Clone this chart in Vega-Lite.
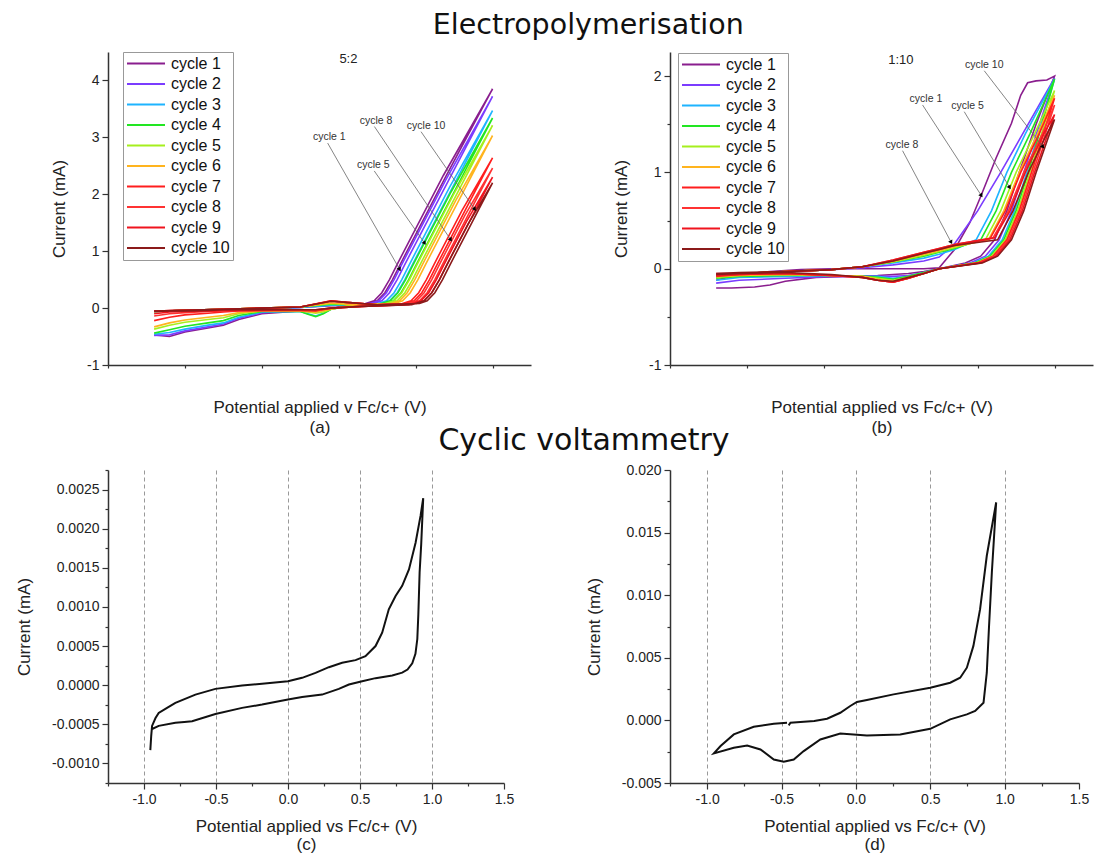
{
"$schema": "https://vega.github.io/schema/vega-lite/v6.json",
"padding": {"left": 15, "top": 11, "right": 2, "bottom": 2},
"background": "white",
"config": {
 "view": {"stroke": null},
 "font": "Liberation Sans",
 "axis": {"domain": true, "domainColor": "#333", "domainWidth": 1.5, "domainOpacity": 1, "labelFont": "Liberation Sans", "labelFontSize": 14, "labelColor": "#222", "titleFont": "Liberation Sans", "titleFontSize": 17, "titleFontWeight": "normal", "titleColor": "#222", "tickColor": "#333", "tickWidth": 1.2, "tickSize": 5, "labelFlush": false, "labelOverlap": false, "labelBound": false, "labelPadding": 3, "zindex": 1},
 "axisX": {"titlePadding": 14, "titleLineHeight": 20},
 "axisY": {"titlePadding": 18, "grid": false}
},
"title": {"text": "Electropolymerisation", "anchor": "middle", "dx": 34, "offset": 12, "font": "DejaVu Sans", "fontSize": 28.5, "fontWeight": "normal", "color": "#111"},
"datasets": {
"a": [
{"c":1,"i":0,"x":-0.95,"y":-0.06},{"c":1,"i":1,"x":-0.75,"y":-0.04},{"c":1,"i":2,"x":-0.5,"y":-0.02},{"c":1,"i":3,"x":-0.25,"y":-0.01},{"c":1,"i":4,"x":0,"y":0.01},{"c":1,"i":5,"x":0.2,"y":0.04},{"c":1,"i":6,"x":0.35,"y":0.05},{"c":1,"i":7,"x":0.45,"y":0.08},{"c":1,"i":8,"x":0.5,"y":0.13},{"c":1,"i":9,"x":0.55,"y":0.27},{"c":1,"i":10,"x":0.6,"y":0.5},{"c":1,"i":11,"x":0.65,"y":0.77},{"c":1,"i":12,"x":0.95,"y":2.33},{"c":1,"i":13,"x":1.25,"y":3.85},{"c":1,"i":14,"x":0.93,"y":2.33},{"c":1,"i":15,"x":0.63,"y":0.77},{"c":1,"i":16,"x":0.58,"y":0.5},{"c":1,"i":17,"x":0.53,"y":0.27},{"c":1,"i":18,"x":0.48,"y":0.13},{"c":1,"i":19,"x":0.4,"y":0.06},{"c":1,"i":20,"x":0.3,"y":0.03},{"c":1,"i":21,"x":0.2,"y":-0.01},{"c":1,"i":22,"x":0.1,"y":-0.05},{"c":1,"i":23,"x":0,"y":-0.05},{"c":1,"i":24,"x":-0.25,"y":-0.1},{"c":1,"i":25,"x":-0.4,"y":-0.2},{"c":1,"i":26,"x":-0.5,"y":-0.3},{"c":1,"i":27,"x":-0.6,"y":-0.35},{"c":1,"i":28,"x":-0.75,"y":-0.42},{"c":1,"i":29,"x":-0.85,"y":-0.5},{"c":1,"i":30,"x":-0.95,"y":-0.47},
{"c":2,"i":0,"x":-0.95,"y":-0.06},{"c":2,"i":1,"x":-0.75,"y":-0.04},{"c":2,"i":2,"x":-0.5,"y":-0.02},{"c":2,"i":3,"x":-0.25,"y":-0.01},{"c":2,"i":4,"x":0,"y":0.01},{"c":2,"i":5,"x":0.2,"y":0.05},{"c":2,"i":6,"x":0.35,"y":0.05},{"c":2,"i":7,"x":0.48,"y":0.08},{"c":2,"i":8,"x":0.53,"y":0.13},{"c":2,"i":9,"x":0.58,"y":0.27},{"c":2,"i":10,"x":0.63,"y":0.5},{"c":2,"i":11,"x":0.68,"y":0.77},{"c":2,"i":12,"x":0.965,"y":2.25},{"c":2,"i":13,"x":1.25,"y":3.72},{"c":2,"i":14,"x":0.945,"y":2.25},{"c":2,"i":15,"x":0.66,"y":0.77},{"c":2,"i":16,"x":0.61,"y":0.5},{"c":2,"i":17,"x":0.56,"y":0.27},{"c":2,"i":18,"x":0.51,"y":0.13},{"c":2,"i":19,"x":0.43,"y":0.06},{"c":2,"i":20,"x":0.3,"y":0.03},{"c":2,"i":21,"x":0.2,"y":-0.01},{"c":2,"i":22,"x":0.1,"y":-0.07},{"c":2,"i":23,"x":0,"y":-0.05},{"c":2,"i":24,"x":-0.25,"y":-0.08},{"c":2,"i":25,"x":-0.4,"y":-0.18},{"c":2,"i":26,"x":-0.5,"y":-0.28},{"c":2,"i":27,"x":-0.6,"y":-0.33},{"c":2,"i":28,"x":-0.75,"y":-0.4},{"c":2,"i":29,"x":-0.85,"y":-0.47},{"c":2,"i":30,"x":-0.95,"y":-0.48},
{"c":3,"i":0,"x":-0.95,"y":-0.06},{"c":3,"i":1,"x":-0.75,"y":-0.04},{"c":3,"i":2,"x":-0.5,"y":-0.02},{"c":3,"i":3,"x":-0.25,"y":-0.01},{"c":3,"i":4,"x":0,"y":0.01},{"c":3,"i":5,"x":0.2,"y":0.05},{"c":3,"i":6,"x":0.35,"y":0.05},{"c":3,"i":7,"x":0.53,"y":0.08},{"c":3,"i":8,"x":0.58,"y":0.13},{"c":3,"i":9,"x":0.63,"y":0.27},{"c":3,"i":10,"x":0.68,"y":0.5},{"c":3,"i":11,"x":0.73,"y":0.77},{"c":3,"i":12,"x":0.99,"y":2.12},{"c":3,"i":13,"x":1.25,"y":3.47},{"c":3,"i":14,"x":0.97,"y":2.12},{"c":3,"i":15,"x":0.71,"y":0.77},{"c":3,"i":16,"x":0.66,"y":0.5},{"c":3,"i":17,"x":0.61,"y":0.27},{"c":3,"i":18,"x":0.56,"y":0.13},{"c":3,"i":19,"x":0.48,"y":0.06},{"c":3,"i":20,"x":0.3,"y":0.03},{"c":3,"i":21,"x":0.2,"y":-0.02},{"c":3,"i":22,"x":0.15,"y":-0.09},{"c":3,"i":23,"x":0.1,"y":-0.14},{"c":3,"i":24,"x":0.05,"y":-0.1},{"c":3,"i":25,"x":0,"y":-0.06},{"c":3,"i":26,"x":-0.25,"y":-0.07},{"c":3,"i":27,"x":-0.4,"y":-0.16},{"c":3,"i":28,"x":-0.5,"y":-0.26},{"c":3,"i":29,"x":-0.6,"y":-0.3},{"c":3,"i":30,"x":-0.75,"y":-0.37},{"c":3,"i":31,"x":-0.85,"y":-0.43},{"c":3,"i":32,"x":-0.95,"y":-0.46},
{"c":4,"i":0,"x":-0.95,"y":-0.06},{"c":4,"i":1,"x":-0.75,"y":-0.04},{"c":4,"i":2,"x":-0.5,"y":-0.02},{"c":4,"i":3,"x":-0.25,"y":0},{"c":4,"i":4,"x":0,"y":0.02},{"c":4,"i":5,"x":0.2,"y":0.07},{"c":4,"i":6,"x":0.35,"y":0.06},{"c":4,"i":7,"x":0.555,"y":0.08},{"c":4,"i":8,"x":0.605,"y":0.13},{"c":4,"i":9,"x":0.655,"y":0.27},{"c":4,"i":10,"x":0.705,"y":0.5},{"c":4,"i":11,"x":0.755,"y":0.77},{"c":4,"i":12,"x":1.0,"y":2.04},{"c":4,"i":13,"x":1.25,"y":3.34},{"c":4,"i":14,"x":0.98,"y":2.04},{"c":4,"i":15,"x":0.735,"y":0.77},{"c":4,"i":16,"x":0.685,"y":0.5},{"c":4,"i":17,"x":0.635,"y":0.27},{"c":4,"i":18,"x":0.585,"y":0.13},{"c":4,"i":19,"x":0.5,"y":0.06},{"c":4,"i":20,"x":0.3,"y":0.03},{"c":4,"i":21,"x":0.2,"y":-0.02},{"c":4,"i":22,"x":0.15,"y":-0.1},{"c":4,"i":23,"x":0.1,"y":-0.15},{"c":4,"i":24,"x":0.05,"y":-0.11},{"c":4,"i":25,"x":0,"y":-0.06},{"c":4,"i":26,"x":-0.25,"y":-0.06},{"c":4,"i":27,"x":-0.4,"y":-0.13},{"c":4,"i":28,"x":-0.5,"y":-0.22},{"c":4,"i":29,"x":-0.6,"y":-0.26},{"c":4,"i":30,"x":-0.75,"y":-0.32},{"c":4,"i":31,"x":-0.85,"y":-0.38},{"c":4,"i":32,"x":-0.95,"y":-0.44},
{"c":5,"i":0,"x":-0.95,"y":-0.06},{"c":5,"i":1,"x":-0.75,"y":-0.04},{"c":5,"i":2,"x":-0.5,"y":-0.02},{"c":5,"i":3,"x":-0.25,"y":0},{"c":5,"i":4,"x":0,"y":0.02},{"c":5,"i":5,"x":0.2,"y":0.08},{"c":5,"i":6,"x":0.35,"y":0.06},{"c":5,"i":7,"x":0.58,"y":0.08},{"c":5,"i":8,"x":0.63,"y":0.13},{"c":5,"i":9,"x":0.68,"y":0.27},{"c":5,"i":10,"x":0.73,"y":0.5},{"c":5,"i":11,"x":0.78,"y":0.77},{"c":5,"i":12,"x":1.015,"y":1.99},{"c":5,"i":13,"x":1.25,"y":3.21},{"c":5,"i":14,"x":0.995,"y":1.99},{"c":5,"i":15,"x":0.76,"y":0.77},{"c":5,"i":16,"x":0.71,"y":0.5},{"c":5,"i":17,"x":0.66,"y":0.27},{"c":5,"i":18,"x":0.61,"y":0.13},{"c":5,"i":19,"x":0.53,"y":0.06},{"c":5,"i":20,"x":0.3,"y":0.03},{"c":5,"i":21,"x":0.2,"y":-0.02},{"c":5,"i":22,"x":0.15,"y":-0.07},{"c":5,"i":23,"x":0.1,"y":-0.09},{"c":5,"i":24,"x":0.05,"y":-0.07},{"c":5,"i":25,"x":0,"y":-0.05},{"c":5,"i":26,"x":-0.25,"y":-0.05},{"c":5,"i":27,"x":-0.4,"y":-0.1},{"c":5,"i":28,"x":-0.5,"y":-0.17},{"c":5,"i":29,"x":-0.6,"y":-0.2},{"c":5,"i":30,"x":-0.75,"y":-0.25},{"c":5,"i":31,"x":-0.85,"y":-0.3},{"c":5,"i":32,"x":-0.95,"y":-0.37},
{"c":6,"i":0,"x":-0.95,"y":-0.06},{"c":6,"i":1,"x":-0.75,"y":-0.04},{"c":6,"i":2,"x":-0.5,"y":-0.02},{"c":6,"i":3,"x":-0.25,"y":0},{"c":6,"i":4,"x":0,"y":0.02},{"c":6,"i":5,"x":0.2,"y":0.09},{"c":6,"i":6,"x":0.35,"y":0.06},{"c":6,"i":7,"x":0.615,"y":0.08},{"c":6,"i":8,"x":0.665,"y":0.13},{"c":6,"i":9,"x":0.715,"y":0.27},{"c":6,"i":10,"x":0.765,"y":0.5},{"c":6,"i":11,"x":0.815,"y":0.77},{"c":6,"i":12,"x":1.03,"y":1.89},{"c":6,"i":13,"x":1.25,"y":3.03},{"c":6,"i":14,"x":1.01,"y":1.89},{"c":6,"i":15,"x":0.795,"y":0.77},{"c":6,"i":16,"x":0.745,"y":0.5},{"c":6,"i":17,"x":0.695,"y":0.27},{"c":6,"i":18,"x":0.645,"y":0.13},{"c":6,"i":19,"x":0.565,"y":0.06},{"c":6,"i":20,"x":0.3,"y":0.03},{"c":6,"i":21,"x":0.2,"y":-0.02},{"c":6,"i":22,"x":0.1,"y":-0.07},{"c":6,"i":23,"x":0,"y":-0.05},{"c":6,"i":24,"x":-0.25,"y":-0.05},{"c":6,"i":25,"x":-0.4,"y":-0.08},{"c":6,"i":26,"x":-0.5,"y":-0.13},{"c":6,"i":27,"x":-0.6,"y":-0.16},{"c":6,"i":28,"x":-0.75,"y":-0.21},{"c":6,"i":29,"x":-0.85,"y":-0.26},{"c":6,"i":30,"x":-0.95,"y":-0.33},
{"c":7,"i":0,"x":-0.95,"y":-0.05},{"c":7,"i":1,"x":-0.75,"y":-0.04},{"c":7,"i":2,"x":-0.5,"y":-0.02},{"c":7,"i":3,"x":-0.25,"y":0},{"c":7,"i":4,"x":0,"y":0.02},{"c":7,"i":5,"x":0.2,"y":0.12},{"c":7,"i":6,"x":0.3,"y":0.1},{"c":7,"i":7,"x":0.5,"y":0.06},{"c":7,"i":8,"x":0.69,"y":0.08},{"c":7,"i":9,"x":0.74,"y":0.13},{"c":7,"i":10,"x":0.79,"y":0.27},{"c":7,"i":11,"x":0.84,"y":0.5},{"c":7,"i":12,"x":0.89,"y":0.77},{"c":7,"i":13,"x":1.07,"y":1.71},{"c":7,"i":14,"x":1.25,"y":2.64},{"c":7,"i":15,"x":1.05,"y":1.71},{"c":7,"i":16,"x":0.87,"y":0.77},{"c":7,"i":17,"x":0.82,"y":0.5},{"c":7,"i":18,"x":0.77,"y":0.27},{"c":7,"i":19,"x":0.72,"y":0.13},{"c":7,"i":20,"x":0.64,"y":0.06},{"c":7,"i":21,"x":0.4,"y":0.03},{"c":7,"i":22,"x":0.2,"y":0},{"c":7,"i":23,"x":0.1,"y":-0.05},{"c":7,"i":24,"x":0,"y":-0.04},{"c":7,"i":25,"x":-0.25,"y":-0.04},{"c":7,"i":26,"x":-0.4,"y":-0.05},{"c":7,"i":27,"x":-0.5,"y":-0.07},{"c":7,"i":28,"x":-0.6,"y":-0.09},{"c":7,"i":29,"x":-0.75,"y":-0.12},{"c":7,"i":30,"x":-0.85,"y":-0.16},{"c":7,"i":31,"x":-0.95,"y":-0.22},
{"c":8,"i":0,"x":-0.95,"y":-0.05},{"c":8,"i":1,"x":-0.75,"y":-0.04},{"c":8,"i":2,"x":-0.5,"y":-0.02},{"c":8,"i":3,"x":-0.25,"y":0},{"c":8,"i":4,"x":0,"y":0.02},{"c":8,"i":5,"x":0.2,"y":0.13},{"c":8,"i":6,"x":0.3,"y":0.1},{"c":8,"i":7,"x":0.5,"y":0.06},{"c":8,"i":8,"x":0.725,"y":0.08},{"c":8,"i":9,"x":0.775,"y":0.13},{"c":8,"i":10,"x":0.825,"y":0.27},{"c":8,"i":11,"x":0.875,"y":0.5},{"c":8,"i":12,"x":0.925,"y":0.77},{"c":8,"i":13,"x":1.09,"y":1.63},{"c":8,"i":14,"x":1.25,"y":2.46},{"c":8,"i":15,"x":1.07,"y":1.63},{"c":8,"i":16,"x":0.905,"y":0.77},{"c":8,"i":17,"x":0.855,"y":0.5},{"c":8,"i":18,"x":0.805,"y":0.27},{"c":8,"i":19,"x":0.755,"y":0.13},{"c":8,"i":20,"x":0.675,"y":0.06},{"c":8,"i":21,"x":0.4,"y":0.03},{"c":8,"i":22,"x":0.2,"y":0},{"c":8,"i":23,"x":0.1,"y":-0.04},{"c":8,"i":24,"x":0,"y":-0.04},{"c":8,"i":25,"x":-0.25,"y":-0.04},{"c":8,"i":26,"x":-0.4,"y":-0.04},{"c":8,"i":27,"x":-0.5,"y":-0.05},{"c":8,"i":28,"x":-0.6,"y":-0.06},{"c":8,"i":29,"x":-0.75,"y":-0.08},{"c":8,"i":30,"x":-0.85,"y":-0.1},{"c":8,"i":31,"x":-0.95,"y":-0.14},
{"c":9,"i":0,"x":-0.95,"y":-0.05},{"c":9,"i":1,"x":-0.75,"y":-0.04},{"c":9,"i":2,"x":-0.5,"y":-0.02},{"c":9,"i":3,"x":-0.25,"y":0},{"c":9,"i":4,"x":0,"y":0.02},{"c":9,"i":5,"x":0.2,"y":0.13},{"c":9,"i":6,"x":0.3,"y":0.1},{"c":9,"i":7,"x":0.5,"y":0.06},{"c":9,"i":8,"x":0.755,"y":0.08},{"c":9,"i":9,"x":0.805,"y":0.13},{"c":9,"i":10,"x":0.855,"y":0.27},{"c":9,"i":11,"x":0.905,"y":0.5},{"c":9,"i":12,"x":0.955,"y":0.77},{"c":9,"i":13,"x":1.1,"y":1.52},{"c":9,"i":14,"x":1.25,"y":2.3},{"c":9,"i":15,"x":1.08,"y":1.52},{"c":9,"i":16,"x":0.935,"y":0.77},{"c":9,"i":17,"x":0.885,"y":0.5},{"c":9,"i":18,"x":0.835,"y":0.27},{"c":9,"i":19,"x":0.785,"y":0.13},{"c":9,"i":20,"x":0.705,"y":0.06},{"c":9,"i":21,"x":0.4,"y":0.03},{"c":9,"i":22,"x":0.2,"y":0},{"c":9,"i":23,"x":0.1,"y":-0.03},{"c":9,"i":24,"x":0,"y":-0.03},{"c":9,"i":25,"x":-0.25,"y":-0.04},{"c":9,"i":26,"x":-0.4,"y":-0.04},{"c":9,"i":27,"x":-0.5,"y":-0.04},{"c":9,"i":28,"x":-0.6,"y":-0.05},{"c":9,"i":29,"x":-0.75,"y":-0.06},{"c":9,"i":30,"x":-0.85,"y":-0.07},{"c":9,"i":31,"x":-0.95,"y":-0.1},
{"c":10,"i":0,"x":-0.95,"y":-0.05},{"c":10,"i":1,"x":-0.75,"y":-0.04},{"c":10,"i":2,"x":-0.5,"y":-0.02},{"c":10,"i":3,"x":-0.25,"y":0},{"c":10,"i":4,"x":0,"y":0.02},{"c":10,"i":5,"x":0.2,"y":0.12},{"c":10,"i":6,"x":0.3,"y":0.1},{"c":10,"i":7,"x":0.5,"y":0.06},{"c":10,"i":8,"x":0.775,"y":0.08},{"c":10,"i":9,"x":0.825,"y":0.13},{"c":10,"i":10,"x":0.875,"y":0.27},{"c":10,"i":11,"x":0.925,"y":0.5},{"c":10,"i":12,"x":0.975,"y":0.77},{"c":10,"i":13,"x":1.11,"y":1.47},{"c":10,"i":14,"x":1.25,"y":2.2},{"c":10,"i":15,"x":1.09,"y":1.47},{"c":10,"i":16,"x":0.955,"y":0.77},{"c":10,"i":17,"x":0.905,"y":0.5},{"c":10,"i":18,"x":0.855,"y":0.27},{"c":10,"i":19,"x":0.805,"y":0.13},{"c":10,"i":20,"x":0.725,"y":0.06},{"c":10,"i":21,"x":0.4,"y":0.03},{"c":10,"i":22,"x":0.2,"y":0},{"c":10,"i":23,"x":0.1,"y":-0.03},{"c":10,"i":24,"x":0,"y":-0.03},{"c":10,"i":25,"x":-0.25,"y":-0.03},{"c":10,"i":26,"x":-0.4,"y":-0.03},{"c":10,"i":27,"x":-0.5,"y":-0.03},{"c":10,"i":28,"x":-0.6,"y":-0.04},{"c":10,"i":29,"x":-0.75,"y":-0.05},{"c":10,"i":30,"x":-0.85,"y":-0.05},{"c":10,"i":31,"x":-0.95,"y":-0.06}
],
"b": [
{"c":1,"i":0,"x":-0.95,"y":-0.12},{"c":1,"i":1,"x":-0.8,"y":-0.06},{"c":1,"i":2,"x":-0.6,"y":-0.03},{"c":1,"i":3,"x":-0.4,"y":-0.01},{"c":1,"i":4,"x":-0.2,"y":0},{"c":1,"i":5,"x":0.1,"y":0},{"c":1,"i":6,"x":0.4,"y":0},{"c":1,"i":7,"x":0.5,"y":0.01},{"c":1,"i":8,"x":0.6,"y":0.2},{"c":1,"i":9,"x":0.7,"y":0.48},{"c":1,"i":10,"x":0.77,"y":0.75},{"c":1,"i":11,"x":0.87,"y":1.15},{"c":1,"i":12,"x":0.97,"y":1.51},{"c":1,"i":13,"x":1.03,"y":1.8},{"c":1,"i":14,"x":1.075,"y":1.93},{"c":1,"i":15,"x":1.13,"y":1.95},{"c":1,"i":16,"x":1.2,"y":1.96},{"c":1,"i":17,"x":1.25,"y":2.0},{"c":1,"i":18,"x":1.13,"y":1.5},{"c":1,"i":19,"x":1.02,"y":1.0},{"c":1,"i":20,"x":0.94,"y":0.6},{"c":1,"i":21,"x":0.86,"y":0.3},{"c":1,"i":22,"x":0.77,"y":0.13},{"c":1,"i":23,"x":0.67,"y":0.06},{"c":1,"i":24,"x":0.5,"y":0},{"c":1,"i":25,"x":0.4,"y":-0.03},{"c":1,"i":26,"x":0.3,"y":-0.05},{"c":1,"i":27,"x":0.1,"y":-0.07},{"c":1,"i":28,"x":-0.1,"y":-0.08},{"c":1,"i":29,"x":-0.3,"y":-0.09},{"c":1,"i":30,"x":-0.5,"y":-0.13},{"c":1,"i":31,"x":-0.6,"y":-0.17},{"c":1,"i":32,"x":-0.7,"y":-0.19},{"c":1,"i":33,"x":-0.85,"y":-0.2},{"c":1,"i":34,"x":-0.95,"y":-0.2},
{"c":2,"i":0,"x":-0.95,"y":-0.09},{"c":2,"i":1,"x":-0.8,"y":-0.05},{"c":2,"i":2,"x":-0.5,"y":-0.03},{"c":2,"i":3,"x":-0.2,"y":-0.01},{"c":2,"i":4,"x":0,"y":0.01},{"c":2,"i":5,"x":0.2,"y":0.04},{"c":2,"i":6,"x":0.4,"y":0.08},{"c":2,"i":7,"x":0.5,"y":0.12},{"c":2,"i":8,"x":0.6,"y":0.26},{"c":2,"i":9,"x":0.75,"y":0.6},{"c":2,"i":10,"x":0.9,"y":1.0},{"c":2,"i":11,"x":1.05,"y":1.42},{"c":2,"i":12,"x":1.15,"y":1.7},{"c":2,"i":13,"x":1.25,"y":1.98},{"c":2,"i":14,"x":1.15,"y":1.49},{"c":2,"i":15,"x":1.05,"y":1.0},{"c":2,"i":16,"x":0.97,"y":0.6},{"c":2,"i":17,"x":0.89,"y":0.3},{"c":2,"i":18,"x":0.8,"y":0.13},{"c":2,"i":19,"x":0.7,"y":0.06},{"c":2,"i":20,"x":0.5,"y":0},{"c":2,"i":21,"x":0.4,"y":-0.04},{"c":2,"i":22,"x":0.3,"y":-0.07},{"c":2,"i":23,"x":0.2,"y":-0.08},{"c":2,"i":24,"x":0.1,"y":-0.08},{"c":2,"i":25,"x":0,"y":-0.08},{"c":2,"i":26,"x":-0.2,"y":-0.08},{"c":2,"i":27,"x":-0.5,"y":-0.1},{"c":2,"i":28,"x":-0.8,"y":-0.12},{"c":2,"i":29,"x":-0.95,"y":-0.15},
{"c":3,"i":0,"x":-0.95,"y":-0.08},{"c":3,"i":1,"x":-0.8,"y":-0.05},{"c":3,"i":2,"x":-0.5,"y":-0.03},{"c":3,"i":3,"x":-0.2,"y":-0.01},{"c":3,"i":4,"x":0,"y":0.02},{"c":3,"i":5,"x":0.2,"y":0.06},{"c":3,"i":6,"x":0.4,"y":0.11},{"c":3,"i":7,"x":0.5,"y":0.15},{"c":3,"i":8,"x":0.6,"y":0.2},{"c":3,"i":9,"x":0.74,"y":0.3},{"c":3,"i":10,"x":0.84,"y":0.6},{"c":3,"i":11,"x":0.94,"y":1.0},{"c":3,"i":12,"x":1.06,"y":1.4},{"c":3,"i":13,"x":1.25,"y":1.97},{"c":3,"i":14,"x":1.16,"y":1.485},{"c":3,"i":15,"x":1.07,"y":1.0},{"c":3,"i":16,"x":0.99,"y":0.6},{"c":3,"i":17,"x":0.91,"y":0.3},{"c":3,"i":18,"x":0.82,"y":0.13},{"c":3,"i":19,"x":0.72,"y":0.06},{"c":3,"i":20,"x":0.5,"y":0},{"c":3,"i":21,"x":0.4,"y":-0.04},{"c":3,"i":22,"x":0.3,"y":-0.08},{"c":3,"i":23,"x":0.2,"y":-0.1},{"c":3,"i":24,"x":0.1,"y":-0.08},{"c":3,"i":25,"x":0,"y":-0.08},{"c":3,"i":26,"x":-0.2,"y":-0.07},{"c":3,"i":27,"x":-0.5,"y":-0.08},{"c":3,"i":28,"x":-0.8,"y":-0.09},{"c":3,"i":29,"x":-0.95,"y":-0.12},
{"c":4,"i":0,"x":-0.95,"y":-0.07},{"c":4,"i":1,"x":-0.8,"y":-0.05},{"c":4,"i":2,"x":-0.5,"y":-0.03},{"c":4,"i":3,"x":-0.2,"y":-0.01},{"c":4,"i":4,"x":0,"y":0.02},{"c":4,"i":5,"x":0.2,"y":0.07},{"c":4,"i":6,"x":0.4,"y":0.13},{"c":4,"i":7,"x":0.5,"y":0.17},{"c":4,"i":8,"x":0.6,"y":0.21},{"c":4,"i":9,"x":0.77,"y":0.3},{"c":4,"i":10,"x":0.87,"y":0.6},{"c":4,"i":11,"x":0.97,"y":1.0},{"c":4,"i":12,"x":1.09,"y":1.4},{"c":4,"i":13,"x":1.25,"y":1.97},{"c":4,"i":14,"x":1.165,"y":1.485},{"c":4,"i":15,"x":1.08,"y":1.0},{"c":4,"i":16,"x":1.0,"y":0.6},{"c":4,"i":17,"x":0.92,"y":0.3},{"c":4,"i":18,"x":0.83,"y":0.13},{"c":4,"i":19,"x":0.73,"y":0.06},{"c":4,"i":20,"x":0.5,"y":0},{"c":4,"i":21,"x":0.4,"y":-0.04},{"c":4,"i":22,"x":0.3,"y":-0.08},{"c":4,"i":23,"x":0.2,"y":-0.11},{"c":4,"i":24,"x":0.1,"y":-0.09},{"c":4,"i":25,"x":0,"y":-0.08},{"c":4,"i":26,"x":-0.2,"y":-0.07},{"c":4,"i":27,"x":-0.5,"y":-0.07},{"c":4,"i":28,"x":-0.8,"y":-0.08},{"c":4,"i":29,"x":-0.95,"y":-0.1},
{"c":5,"i":0,"x":-0.95,"y":-0.07},{"c":5,"i":1,"x":-0.8,"y":-0.05},{"c":5,"i":2,"x":-0.5,"y":-0.03},{"c":5,"i":3,"x":-0.2,"y":-0.01},{"c":5,"i":4,"x":0,"y":0.02},{"c":5,"i":5,"x":0.2,"y":0.07},{"c":5,"i":6,"x":0.4,"y":0.14},{"c":5,"i":7,"x":0.5,"y":0.18},{"c":5,"i":8,"x":0.6,"y":0.22},{"c":5,"i":9,"x":0.8,"y":0.3},{"c":5,"i":10,"x":0.9,"y":0.6},{"c":5,"i":11,"x":1.0,"y":1.0},{"c":5,"i":12,"x":1.12,"y":1.4},{"c":5,"i":13,"x":1.25,"y":1.85},{"c":5,"i":14,"x":1.17,"y":1.425},{"c":5,"i":15,"x":1.09,"y":1.0},{"c":5,"i":16,"x":1.01,"y":0.6},{"c":5,"i":17,"x":0.93,"y":0.3},{"c":5,"i":18,"x":0.84,"y":0.13},{"c":5,"i":19,"x":0.74,"y":0.06},{"c":5,"i":20,"x":0.5,"y":0},{"c":5,"i":21,"x":0.4,"y":-0.05},{"c":5,"i":22,"x":0.3,"y":-0.09},{"c":5,"i":23,"x":0.2,"y":-0.12},{"c":5,"i":24,"x":0.1,"y":-0.1},{"c":5,"i":25,"x":0,"y":-0.08},{"c":5,"i":26,"x":-0.2,"y":-0.07},{"c":5,"i":27,"x":-0.5,"y":-0.06},{"c":5,"i":28,"x":-0.8,"y":-0.07},{"c":5,"i":29,"x":-0.95,"y":-0.09},
{"c":6,"i":0,"x":-0.95,"y":-0.06},{"c":6,"i":1,"x":-0.8,"y":-0.05},{"c":6,"i":2,"x":-0.5,"y":-0.03},{"c":6,"i":3,"x":-0.2,"y":-0.01},{"c":6,"i":4,"x":0,"y":0.02},{"c":6,"i":5,"x":0.2,"y":0.08},{"c":6,"i":6,"x":0.4,"y":0.15},{"c":6,"i":7,"x":0.5,"y":0.19},{"c":6,"i":8,"x":0.6,"y":0.23},{"c":6,"i":9,"x":0.82,"y":0.3},{"c":6,"i":10,"x":0.92,"y":0.6},{"c":6,"i":11,"x":1.02,"y":1.0},{"c":6,"i":12,"x":1.14,"y":1.4},{"c":6,"i":13,"x":1.25,"y":1.8},{"c":6,"i":14,"x":1.175,"y":1.4},{"c":6,"i":15,"x":1.1,"y":1.0},{"c":6,"i":16,"x":1.02,"y":0.6},{"c":6,"i":17,"x":0.94,"y":0.3},{"c":6,"i":18,"x":0.85,"y":0.13},{"c":6,"i":19,"x":0.75,"y":0.06},{"c":6,"i":20,"x":0.5,"y":0},{"c":6,"i":21,"x":0.4,"y":-0.05},{"c":6,"i":22,"x":0.3,"y":-0.1},{"c":6,"i":23,"x":0.2,"y":-0.13},{"c":6,"i":24,"x":0.1,"y":-0.11},{"c":6,"i":25,"x":0,"y":-0.08},{"c":6,"i":26,"x":-0.2,"y":-0.07},{"c":6,"i":27,"x":-0.5,"y":-0.06},{"c":6,"i":28,"x":-0.8,"y":-0.07},{"c":6,"i":29,"x":-0.95,"y":-0.08},
{"c":7,"i":0,"x":-0.95,"y":-0.06},{"c":7,"i":1,"x":-0.8,"y":-0.05},{"c":7,"i":2,"x":-0.5,"y":-0.03},{"c":7,"i":3,"x":-0.2,"y":-0.01},{"c":7,"i":4,"x":0,"y":0.02},{"c":7,"i":5,"x":0.2,"y":0.08},{"c":7,"i":6,"x":0.4,"y":0.16},{"c":7,"i":7,"x":0.5,"y":0.2},{"c":7,"i":8,"x":0.6,"y":0.24},{"c":7,"i":9,"x":0.83,"y":0.31},{"c":7,"i":10,"x":0.93,"y":0.6},{"c":7,"i":11,"x":1.03,"y":1.0},{"c":7,"i":12,"x":1.15,"y":1.4},{"c":7,"i":13,"x":1.25,"y":1.77},{"c":7,"i":14,"x":1.175,"y":1.385},{"c":7,"i":15,"x":1.1,"y":1.0},{"c":7,"i":16,"x":1.02,"y":0.6},{"c":7,"i":17,"x":0.94,"y":0.3},{"c":7,"i":18,"x":0.85,"y":0.13},{"c":7,"i":19,"x":0.75,"y":0.06},{"c":7,"i":20,"x":0.5,"y":0},{"c":7,"i":21,"x":0.4,"y":-0.05},{"c":7,"i":22,"x":0.3,"y":-0.1},{"c":7,"i":23,"x":0.2,"y":-0.14},{"c":7,"i":24,"x":0.1,"y":-0.12},{"c":7,"i":25,"x":0,"y":-0.09},{"c":7,"i":26,"x":-0.2,"y":-0.07},{"c":7,"i":27,"x":-0.5,"y":-0.05},{"c":7,"i":28,"x":-0.8,"y":-0.06},{"c":7,"i":29,"x":-0.95,"y":-0.08},
{"c":8,"i":0,"x":-0.95,"y":-0.06},{"c":8,"i":1,"x":-0.8,"y":-0.05},{"c":8,"i":2,"x":-0.5,"y":-0.03},{"c":8,"i":3,"x":-0.2,"y":-0.01},{"c":8,"i":4,"x":0,"y":0.02},{"c":8,"i":5,"x":0.2,"y":0.09},{"c":8,"i":6,"x":0.4,"y":0.17},{"c":8,"i":7,"x":0.5,"y":0.21},{"c":8,"i":8,"x":0.6,"y":0.25},{"c":8,"i":9,"x":0.85,"y":0.32},{"c":8,"i":10,"x":0.95,"y":0.6},{"c":8,"i":11,"x":1.05,"y":1.0},{"c":8,"i":12,"x":1.17,"y":1.4},{"c":8,"i":13,"x":1.25,"y":1.7},{"c":8,"i":14,"x":1.18,"y":1.35},{"c":8,"i":15,"x":1.11,"y":1.0},{"c":8,"i":16,"x":1.03,"y":0.6},{"c":8,"i":17,"x":0.95,"y":0.3},{"c":8,"i":18,"x":0.86,"y":0.13},{"c":8,"i":19,"x":0.76,"y":0.06},{"c":8,"i":20,"x":0.5,"y":0},{"c":8,"i":21,"x":0.4,"y":-0.05},{"c":8,"i":22,"x":0.3,"y":-0.1},{"c":8,"i":23,"x":0.2,"y":-0.14},{"c":8,"i":24,"x":0.1,"y":-0.12},{"c":8,"i":25,"x":0,"y":-0.09},{"c":8,"i":26,"x":-0.2,"y":-0.07},{"c":8,"i":27,"x":-0.5,"y":-0.05},{"c":8,"i":28,"x":-0.8,"y":-0.06},{"c":8,"i":29,"x":-0.95,"y":-0.07},
{"c":9,"i":0,"x":-0.95,"y":-0.05},{"c":9,"i":1,"x":-0.8,"y":-0.05},{"c":9,"i":2,"x":-0.5,"y":-0.03},{"c":9,"i":3,"x":-0.2,"y":-0.01},{"c":9,"i":4,"x":0,"y":0.02},{"c":9,"i":5,"x":0.2,"y":0.09},{"c":9,"i":6,"x":0.4,"y":0.17},{"c":9,"i":7,"x":0.5,"y":0.21},{"c":9,"i":8,"x":0.6,"y":0.25},{"c":9,"i":9,"x":0.86,"y":0.32},{"c":9,"i":10,"x":0.96,"y":0.6},{"c":9,"i":11,"x":1.06,"y":1.0},{"c":9,"i":12,"x":1.18,"y":1.4},{"c":9,"i":13,"x":1.25,"y":1.6},{"c":9,"i":14,"x":1.185,"y":1.3},{"c":9,"i":15,"x":1.12,"y":1.0},{"c":9,"i":16,"x":1.04,"y":0.6},{"c":9,"i":17,"x":0.96,"y":0.3},{"c":9,"i":18,"x":0.87,"y":0.13},{"c":9,"i":19,"x":0.77,"y":0.06},{"c":9,"i":20,"x":0.5,"y":0},{"c":9,"i":21,"x":0.4,"y":-0.05},{"c":9,"i":22,"x":0.3,"y":-0.1},{"c":9,"i":23,"x":0.2,"y":-0.14},{"c":9,"i":24,"x":0.1,"y":-0.12},{"c":9,"i":25,"x":0,"y":-0.09},{"c":9,"i":26,"x":-0.2,"y":-0.07},{"c":9,"i":27,"x":-0.5,"y":-0.05},{"c":9,"i":28,"x":-0.8,"y":-0.06},{"c":9,"i":29,"x":-0.95,"y":-0.07},
{"c":10,"i":0,"x":-0.95,"y":-0.05},{"c":10,"i":1,"x":-0.8,"y":-0.04},{"c":10,"i":2,"x":-0.5,"y":-0.03},{"c":10,"i":3,"x":-0.2,"y":-0.01},{"c":10,"i":4,"x":0,"y":0.02},{"c":10,"i":5,"x":0.2,"y":0.08},{"c":10,"i":6,"x":0.4,"y":0.16},{"c":10,"i":7,"x":0.5,"y":0.2},{"c":10,"i":8,"x":0.6,"y":0.24},{"c":10,"i":9,"x":0.88,"y":0.3},{"c":10,"i":10,"x":0.98,"y":0.6},{"c":10,"i":11,"x":1.08,"y":1.0},{"c":10,"i":12,"x":1.2,"y":1.4},{"c":10,"i":13,"x":1.25,"y":1.55},{"c":10,"i":14,"x":1.19,"y":1.275},{"c":10,"i":15,"x":1.13,"y":1.0},{"c":10,"i":16,"x":1.05,"y":0.6},{"c":10,"i":17,"x":0.97,"y":0.3},{"c":10,"i":18,"x":0.88,"y":0.13},{"c":10,"i":19,"x":0.78,"y":0.06},{"c":10,"i":20,"x":0.5,"y":0},{"c":10,"i":21,"x":0.4,"y":-0.05},{"c":10,"i":22,"x":0.3,"y":-0.09},{"c":10,"i":23,"x":0.2,"y":-0.13},{"c":10,"i":24,"x":0.1,"y":-0.12},{"c":10,"i":25,"x":0,"y":-0.09},{"c":10,"i":26,"x":-0.2,"y":-0.06},{"c":10,"i":27,"x":-0.5,"y":-0.04},{"c":10,"i":28,"x":-0.8,"y":-0.05},{"c":10,"i":29,"x":-0.95,"y":-0.06}
],
"cv1": [
{"i":0,"x":-0.956,"y":-0.00083},{"i":1,"x":-0.95,"y":-0.00065},{"i":2,"x":-0.944,"y":-0.00052},{"i":3,"x":-0.92,"y":-0.00042},{"i":4,"x":-0.898,"y":-0.000355},{"i":5,"x":-0.84,"y":-0.00029},{"i":6,"x":-0.782,"y":-0.000226},{"i":7,"x":-0.643,"y":-0.00012},{"i":8,"x":-0.504,"y":-0.000047},{"i":9,"x":-0.319,"y":-0.000004},{"i":10,"x":-0.18,"y":0.000017},{"i":11,"x":0,"y":0.000051},{"i":12,"x":0.098,"y":0.000094},{"i":13,"x":0.191,"y":0.000158},{"i":14,"x":0.284,"y":0.00023},{"i":15,"x":0.376,"y":0.000286},{"i":16,"x":0.469,"y":0.00032},{"i":17,"x":0.538,"y":0.00037},{"i":18,"x":0.608,"y":0.0005},{"i":19,"x":0.654,"y":0.00067},{"i":20,"x":0.7,"y":0.00097},{"i":21,"x":0.747,"y":0.00114},{"i":22,"x":0.793,"y":0.00127},{"i":23,"x":0.84,"y":0.00148},{"i":24,"x":0.886,"y":0.00182},{"i":25,"x":0.921,"y":0.00217},{"i":26,"x":0.939,"y":0.00239},{"i":27,"x":0.925,"y":0.0018},{"i":28,"x":0.914,"y":0.00144},{"i":29,"x":0.905,"y":0.0009},{"i":30,"x":0.898,"y":0.00059},{"i":31,"x":0.885,"y":0.0004},{"i":32,"x":0.863,"y":0.00028},{"i":33,"x":0.83,"y":0.0002},{"i":34,"x":0.793,"y":0.00016},{"i":35,"x":0.724,"y":0.000124},{"i":36,"x":0.608,"y":0.00009},{"i":37,"x":0.515,"y":0.000051},{"i":38,"x":0.423,"y":0.000009},{"i":39,"x":0.353,"y":-0.000047},{"i":40,"x":0.237,"y":-0.00012},{"i":41,"x":0.098,"y":-0.00015},{"i":42,"x":0,"y":-0.000184},{"i":43,"x":-0.18,"y":-0.000248},{"i":44,"x":-0.319,"y":-0.00029},{"i":45,"x":-0.504,"y":-0.000368},{"i":46,"x":-0.666,"y":-0.00046},{"i":47,"x":-0.72,"y":-0.00047},{"i":48,"x":-0.782,"y":-0.00048},{"i":49,"x":-0.898,"y":-0.00052},{"i":50,"x":-0.944,"y":-0.00056}
],
"cv2": [
{"i":0,"x":-0.452,"y":-0.0004},{"i":1,"x":-0.44,"y":-0.00018},{"i":2,"x":-0.373,"y":-0.00013},{"i":3,"x":-0.28,"y":-0.00005},{"i":4,"x":-0.194,"y":0.00013},{"i":5,"x":-0.105,"y":0.00061},{"i":6,"x":-0.038,"y":0.00115},{"i":7,"x":0.007,"y":0.00147},{"i":8,"x":0.074,"y":0.00163},{"i":9,"x":0.253,"y":0.00208},{"i":10,"x":0.5,"y":0.00261},{"i":11,"x":0.634,"y":0.00301},{"i":12,"x":0.701,"y":0.00341},{"i":13,"x":0.746,"y":0.00421},{"i":14,"x":0.79,"y":0.00595},{"i":15,"x":0.835,"y":0.00888},{"i":16,"x":0.88,"y":0.01315},{"i":17,"x":0.943,"y":0.01741},{"i":18,"x":0.914,"y":0.01181},{"i":19,"x":0.895,"y":0.0075},{"i":20,"x":0.88,"y":0.00381},{"i":21,"x":0.858,"y":0.00141},{"i":22,"x":0.802,"y":0.00075},{"i":23,"x":0.746,"y":0.00048},{"i":24,"x":0.634,"y":0.00008},{"i":25,"x":0.5,"y":-0.00067},{"i":26,"x":0.298,"y":-0.00112},{"i":27,"x":0.074,"y":-0.0012},{"i":28,"x":-0.105,"y":-0.00104},{"i":29,"x":-0.239,"y":-0.00152},{"i":30,"x":-0.351,"y":-0.00245},{"i":31,"x":-0.418,"y":-0.00312},{"i":32,"x":-0.485,"y":-0.00331},{"i":33,"x":-0.552,"y":-0.00312},{"i":34,"x":-0.642,"y":-0.00232},{"i":35,"x":-0.731,"y":-0.002},{"i":36,"x":-0.821,"y":-0.00219},{"i":37,"x":-0.955,"y":-0.00264},{"i":38,"x":-0.91,"y":-0.00205},{"i":39,"x":-0.821,"y":-0.00112},{"i":40,"x":-0.687,"y":-0.00051},{"i":41,"x":-0.552,"y":-0.00027},{"i":42,"x":-0.463,"y":-0.00019}
],
"annA": [
{"t":"5:2","tx":0.313,"ty":4.37},
{"t":"cycle 1","tx":0.189,"ty":3.0,"x1":0.178,"y1":2.9,"x2":0.644,"y2":0.69},
{"t":"cycle 8","tx":0.493,"ty":3.29,"x1":0.482,"y1":3.19,"x2":0.976,"y2":1.21},
{"t":"cycle 5","tx":0.475,"ty":2.51,"x1":0.481,"y1":2.41,"x2":0.806,"y2":1.15},
{"t":"cycle 10","tx":0.818,"ty":3.2,"x1":0.785,"y1":3.1,"x2":1.132,"y2":1.745}
],
"annB": [
{"t":"1:10","tx":0.251,"ty":2.17},
{"t":"cycle 10","tx":0.793,"ty":2.115,"x1":0.793,"y1":2.055,"x2":1.172,"y2":1.27},
{"t":"cycle 1","tx":0.414,"ty":1.76,"x1":0.392,"y1":1.7,"x2":0.772,"y2":0.765},
{"t":"cycle 5","tx":0.684,"ty":1.69,"x1":0.663,"y1":1.63,"x2":0.956,"y2":0.85},
{"t":"cycle 8","tx":0.258,"ty":1.285,"x1":0.262,"y1":1.225,"x2":0.576,"y2":0.28}
]
},
"columns": 2,
"bounds": "flush",
"spacing": {"row": 105, "column": 139},
"resolve": {"scale": {"color": "independent"}},
"concat": [
{
 "width": 423, "height": 313,
 "layer": [
  {"data": {"name": "a"}, "mark": {"type": "line", "strokeWidth": 1.6},
   "encoding": {
    "x": {"field": "x", "type": "quantitative", "scale": {"domain": [-1.25, 1.5], "nice": false, "zero": false},
     "axis": {"title": ["Potential applied v Fc/c+ (V)", "(a)"], "values": [-1.25,-1,-0.75,-0.5,-0.25,0,0.25,0.5,0.75,1,1.25,1.5],
      "labelExpr": "abs(datum.value*2-round(datum.value*2))<0.001 ? replace(format(datum.value,'.1f'),'\u2212','-') : ''",
      "tickSize": {"condition": {"test": "abs(datum.value*2-round(datum.value*2))<0.001", "value": 6}, "value": 3},
      "grid": true, "gridDash": [4, 3], "gridColor": "#999", "gridWidth": 1,
      "gridOpacity": {"condition": {"test": "datum.value>-1.01 && datum.value<1.01 && abs(datum.value*2-round(datum.value*2))<0.001", "value": 1}, "value": 0}}},
    "y": {"field": "y", "type": "quantitative", "scale": {"domain": [-1, 4.5], "nice": false, "zero": false},
     "axis": {"title": "Current (mA)", "domain": true, "values": [-1,-0.5,0,0.5,1,1.5,2,2.5,3,3.5,4,4.5],
      "labelExpr": "datum.value%1===0 ? ''+datum.value : ''",
      "tickSize": {"condition": {"test": "datum.value%1===0", "value": 6}, "value": 3}}},
    "color": {"field": "c", "type": "nominal",
     "scale": {"domain": [1,2,3,4,5,6,7,8,9,10], "range": ["#8a1e8e","#7b3cff","#1eb4ff","#22e622","#a6ef1e","#ffb41e","#ff1e1e","#ff3232","#f0141e","#8b1a1a"]},
     "legend": {"title": null, "orient": "none", "legendX": 15, "legendY": 0, "symbolType": "stroke", "symbolSize": 1444, "symbolStrokeWidth": 2, "labelFontSize": 16, "labelFont": "Liberation Sans", "labelColor": "#111", "strokeColor": "#999", "fillColor": "white", "padding": 3, "rowPadding": 3.5, "clipHeight": 17, "labelOffset": 5, "labelExpr": "'cycle ' + datum.label"}},
    "order": {"field": "i", "type": "quantitative"}
   }},
  {"data": {"name": "annA"}, "transform": [{"filter": "isValid(datum.x1)"}], "mark": {"type": "rule", "color": "#666", "strokeWidth": 0.8},
   "encoding": {"x": {"field": "x1", "type": "quantitative"}, "y": {"field": "y1", "type": "quantitative"}, "x2": {"field": "x2"}, "y2": {"field": "y2"}}},
  {"data": {"name": "annA"}, "transform": [{"filter": "isValid(datum.x1)"}, {"calculate": "atan2((datum.x2-datum.x1)*153.8,(datum.y2-datum.y1)*56.9)*180/PI", "as": "ang"}],
   "mark": {"type": "point", "shape": "triangle", "filled": true, "color": "#000", "size": 22, "opacity": 1},
   "encoding": {"x": {"field": "x2", "type": "quantitative"}, "y": {"field": "y2", "type": "quantitative"}, "angle": {"field": "ang", "type": "quantitative", "scale": null}}},
  {"data": {"name": "annA"}, "transform": [{"filter": "isValid(datum.x1)"}], "mark": {"type": "text", "fontSize": 10.5, "color": "#333", "font": "Liberation Sans"},
   "encoding": {"x": {"field": "tx", "type": "quantitative"}, "y": {"field": "ty", "type": "quantitative"}, "text": {"field": "t"}}},
  {"data": {"name": "annA"}, "transform": [{"filter": "!isValid(datum.x1)"}], "mark": {"type": "text", "fontSize": 13, "color": "#222", "font": "Liberation Sans"},
   "encoding": {"x": {"field": "tx", "type": "quantitative"}, "y": {"field": "ty", "type": "quantitative"}, "text": {"field": "t"}}}
 ]
},
{
 "width": 423, "height": 313,
 "layer": [
  {"data": {"name": "b"}, "mark": {"type": "line", "strokeWidth": 1.6},
   "encoding": {
    "x": {"field": "x", "type": "quantitative", "scale": {"domain": [-1.25, 1.5], "nice": false, "zero": false},
     "axis": {"title": ["Potential applied vs Fc/c+ (V)", "(b)"], "values": [-1.25,-1,-0.75,-0.5,-0.25,0,0.25,0.5,0.75,1,1.25,1.5],
      "labelExpr": "abs(datum.value*2-round(datum.value*2))<0.001 ? replace(format(datum.value,'.1f'),'\u2212','-') : ''",
      "tickSize": {"condition": {"test": "abs(datum.value*2-round(datum.value*2))<0.001", "value": 6}, "value": 3},
      "grid": true, "gridDash": [4, 3], "gridColor": "#999", "gridWidth": 1,
      "gridOpacity": {"condition": {"test": "datum.value>-1.01 && datum.value<1.01 && abs(datum.value*2-round(datum.value*2))<0.001", "value": 1}, "value": 0}}},
    "y": {"field": "y", "type": "quantitative", "scale": {"domain": [-1, 2.25], "nice": false, "zero": false},
     "axis": {"title": "Current (mA)", "domain": true, "values": [-1,-0.5,0,0.5,1,1.5,2],
      "labelExpr": "datum.value%1===0 ? ''+datum.value : ''",
      "tickSize": {"condition": {"test": "datum.value%1===0", "value": 6}, "value": 3}}},
    "color": {"field": "c", "type": "nominal",
     "scale": {"domain": [1,2,3,4,5,6,7,8,9,10], "range": ["#8a1e8e","#7b3cff","#1eb4ff","#22e622","#a6ef1e","#ffb41e","#ff1e1e","#ff3232","#f0141e","#8b1a1a"]},
     "legend": {"title": null, "orient": "none", "legendX": 8, "legendY": 1, "symbolType": "stroke", "symbolSize": 1444, "symbolStrokeWidth": 2, "labelFontSize": 16, "labelFont": "Liberation Sans", "labelColor": "#111", "strokeColor": "#999", "fillColor": "white", "padding": 3, "rowPadding": 3.5, "clipHeight": 17, "labelOffset": 5, "labelExpr": "'cycle ' + datum.label"}},
    "order": {"field": "i", "type": "quantitative"}
   }},
  {"data": {"name": "annB"}, "transform": [{"filter": "isValid(datum.x1)"}], "mark": {"type": "rule", "color": "#666", "strokeWidth": 0.8},
   "encoding": {"x": {"field": "x1", "type": "quantitative"}, "y": {"field": "y1", "type": "quantitative"}, "x2": {"field": "x2"}, "y2": {"field": "y2"}}},
  {"data": {"name": "annB"}, "transform": [{"filter": "isValid(datum.x1)"}, {"calculate": "atan2((datum.x2-datum.x1)*153.8,(datum.y2-datum.y1)*96.3)*180/PI", "as": "ang"}],
   "mark": {"type": "point", "shape": "triangle", "filled": true, "color": "#000", "size": 22, "opacity": 1},
   "encoding": {"x": {"field": "x2", "type": "quantitative"}, "y": {"field": "y2", "type": "quantitative"}, "angle": {"field": "ang", "type": "quantitative", "scale": null}}},
  {"data": {"name": "annB"}, "transform": [{"filter": "isValid(datum.x1)"}], "mark": {"type": "text", "fontSize": 10.5, "color": "#333", "font": "Liberation Sans"},
   "encoding": {"x": {"field": "tx", "type": "quantitative"}, "y": {"field": "ty", "type": "quantitative"}, "text": {"field": "t"}}},
  {"data": {"name": "annB"}, "transform": [{"filter": "!isValid(datum.x1)"}], "mark": {"type": "text", "fontSize": 13, "color": "#222", "font": "Liberation Sans"},
   "encoding": {"x": {"field": "tx", "type": "quantitative"}, "y": {"field": "ty", "type": "quantitative"}, "text": {"field": "t"}}}
 ]
},
{
 "width": 396, "height": 313,
 "title": {"text": "Cyclic voltammetry", "anchor": "middle", "dx": 278, "offset": 7, "font": "DejaVu Sans", "fontSize": 30, "fontWeight": "normal", "color": "#111"},
 "data": {"name": "cv1"},
 "mark": {"type": "line", "strokeWidth": 2, "color": "#111"},
 "encoding": {
  "x": {"field": "x", "type": "quantitative", "scale": {"domain": [-1.25, 1.5], "nice": false, "zero": false},
   "axis": {"title": ["Potential applied vs Fc/c+ (V)", "(c)"], "domain": true, "domainColor": "#333", "domainWidth": 1.5, "domainOpacity": 1, "titlePadding": 12, "titleLineHeight": 18, "values": [-1.25,-1,-0.75,-0.5,-0.25,0,0.25,0.5,0.75,1,1.25,1.5],
    "labelExpr": "abs(datum.value*2-round(datum.value*2))<0.001 ? replace(format(datum.value,'.1f'),'\u2212','-') : ''",
    "tickSize": {"condition": {"test": "abs(datum.value*2-round(datum.value*2))<0.001", "value": 6}, "value": 3},
    "grid": true, "gridDash": [4, 3], "gridColor": "#999", "gridWidth": 1,
    "gridOpacity": {"condition": {"test": "datum.value>-1.01 && datum.value<1.01 && abs(datum.value*2-round(datum.value*2))<0.001", "value": 1}, "value": 0}}},
  "y": {"field": "y", "type": "quantitative", "scale": {"domain": [-0.00125, 0.00275], "nice": false, "zero": false},
   "axis": {"title": "Current (mA)", "domain": true, "values": [-0.00125,-0.001,-0.00075,-0.0005,-0.00025,0,0.00025,0.0005,0.00075,0.001,0.00125,0.0015,0.00175,0.002,0.00225,0.0025,0.00275],
    "labelExpr": "abs(datum.value*2000-round(datum.value*2000))<0.001 ? replace(format(datum.value,'.4f'),'\u2212','-') : ''",
    "tickSize": {"condition": {"test": "abs(datum.value*2000-round(datum.value*2000))<0.001", "value": 6}, "value": 3}}},
  "order": {"field": "i", "type": "quantitative"}
 }
},
{
 "width": 409, "height": 313,
 "data": {"name": "cv2"},
 "mark": {"type": "line", "strokeWidth": 2, "color": "#111"},
 "encoding": {
  "x": {"field": "x", "type": "quantitative", "scale": {"domain": [-1.25, 1.5], "nice": false, "zero": false},
   "axis": {"title": ["Potential applied vs Fc/c+ (V)", "(d)"], "domain": true, "domainColor": "#333", "domainWidth": 1.5, "domainOpacity": 1, "titlePadding": 12, "titleLineHeight": 18, "values": [-1.25,-1,-0.75,-0.5,-0.25,0,0.25,0.5,0.75,1,1.25,1.5],
    "labelExpr": "abs(datum.value*2-round(datum.value*2))<0.001 ? replace(format(datum.value,'.1f'),'\u2212','-') : ''",
    "tickSize": {"condition": {"test": "abs(datum.value*2-round(datum.value*2))<0.001", "value": 6}, "value": 3},
    "grid": true, "gridDash": [4, 3], "gridColor": "#999", "gridWidth": 1,
    "gridOpacity": {"condition": {"test": "datum.value>-1.01 && datum.value<1.01 && abs(datum.value*2-round(datum.value*2))<0.001", "value": 1}, "value": 0}}},
  "y": {"field": "y", "type": "quantitative", "scale": {"domain": [-0.005, 0.02], "nice": false, "zero": false},
   "axis": {"title": "Current (mA)", "domain": true, "values": [-0.005,-0.0025,0,0.0025,0.005,0.0075,0.01,0.0125,0.015,0.0175,0.02],
    "labelExpr": "abs(datum.value*200-round(datum.value*200))<0.001 ? replace(format(datum.value,'.3f'),'\u2212','-') : ''",
    "tickSize": {"condition": {"test": "abs(datum.value*200-round(datum.value*200))<0.001", "value": 6}, "value": 3}}},
  "order": {"field": "i", "type": "quantitative"}
 }
}
]
}
